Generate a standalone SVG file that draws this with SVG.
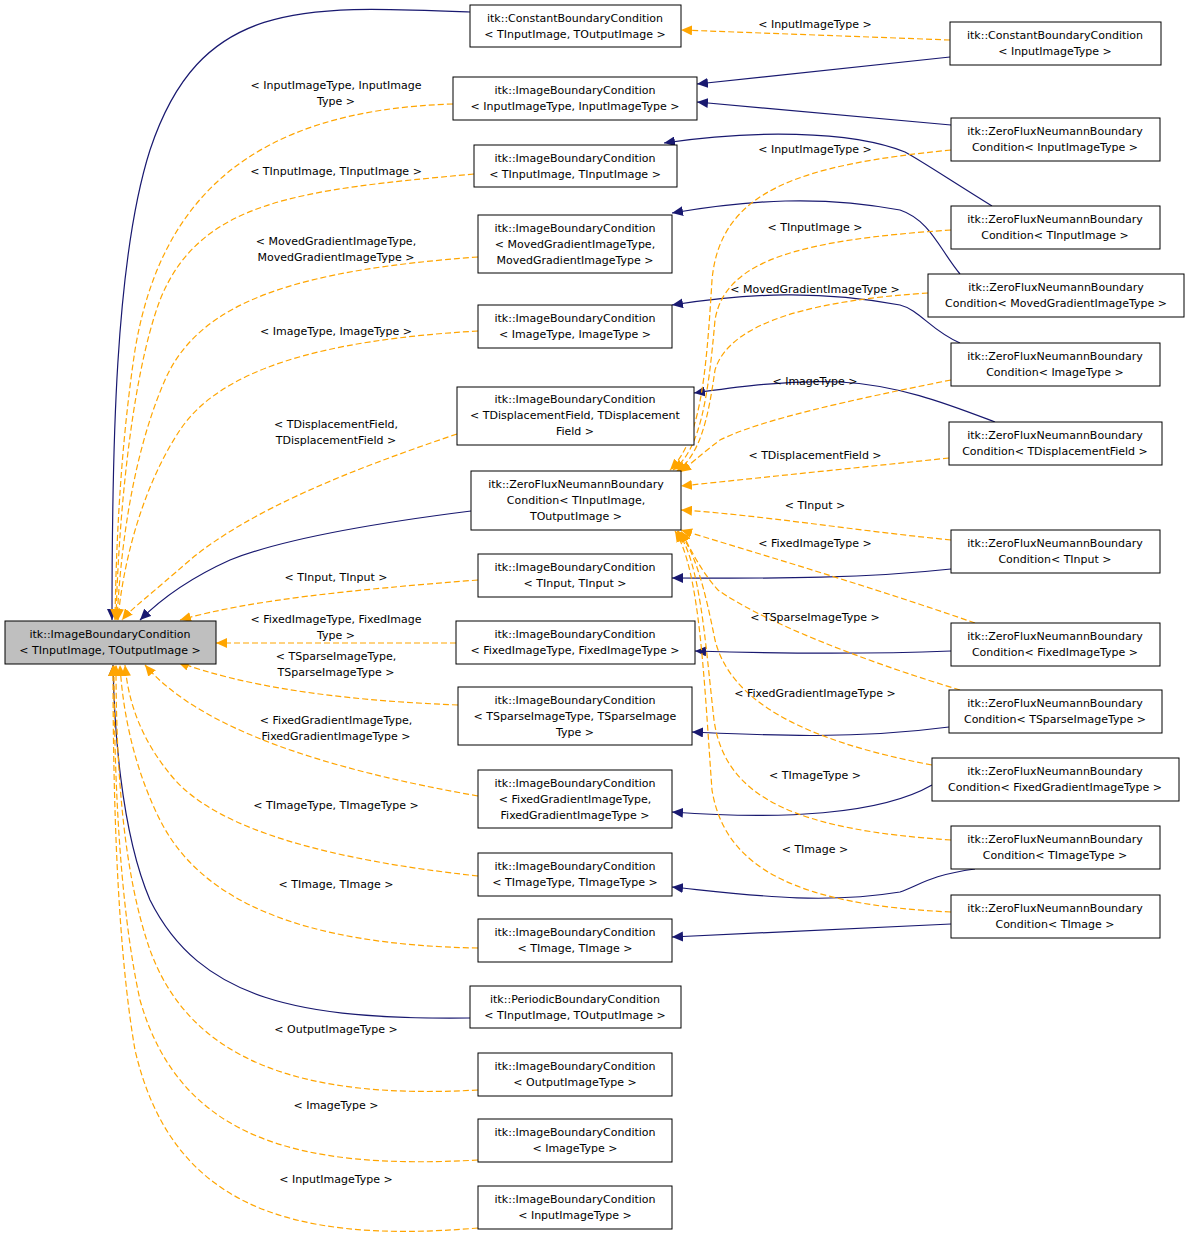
<svg xmlns="http://www.w3.org/2000/svg" width="1189" height="1242" viewBox="0 0 1189 1242">
<style>
text{font-family:"DejaVu Sans","Noto Sans",sans-serif;font-size:11px;fill:#000;text-anchor:middle}
.n rect{fill:#fff;stroke:#000;stroke-width:1}
.r rect{fill:#bfbfbf}
.b{fill:none;stroke:#191970;stroke-width:1.2}
.o{fill:none;stroke:#ffa500;stroke-width:1.2;stroke-dasharray:6,3}
</style>
<defs>
<marker id="ab" markerWidth="12" markerHeight="10" refX="11" refY="5" orient="auto" markerUnits="userSpaceOnUse"><path d="M0,0 L11,5 L0,10 z" fill="#191970"/></marker>
<marker id="ao" markerWidth="12" markerHeight="10" refX="11" refY="5" orient="auto" markerUnits="userSpaceOnUse"><path d="M0,0 L11,5 L0,10 z" fill="#ffa500"/></marker>
</defs>
<g id="connectors">
<!-- to root -->
<path class="b" marker-end="url(#ab)" d="M470,12 C300,5 200,0 150,150 C115,260 112,450 112,620"/>
<path class="o" marker-end="url(#ao)" d="M453,104 C250,110 160,200 135,350 C120,450 116,550 115,620"/>
<path class="o" marker-end="url(#ao)" d="M474,174 C300,190 200,200 160,300 C130,380 118,530 116,620"/>
<path class="o" marker-end="url(#ao)" d="M478,257 C300,270 200,300 165,380 C130,460 120,560 117,620"/>
<path class="o" marker-end="url(#ao)" d="M478,331 C320,340 220,370 180,430 C140,490 122,570 118,620"/>
<path class="o" marker-end="url(#ao)" d="M457,434 C350,470 250,510 190,560 C150,595 130,610 122,620"/>
<path class="b" marker-end="url(#ab)" d="M471,511 C360,525 280,540 230,560 C190,578 160,600 140,620"/>
<path class="o" marker-end="url(#ao)" d="M478,580 C350,590 250,600 180,620"/>
<path class="o" marker-end="url(#ao)" d="M456,643 L216,643"/>
<path class="o" marker-end="url(#ao)" d="M458,705 C330,700 240,685 178,662"/>
<path class="o" marker-end="url(#ao)" d="M478,796 C330,770 200,730 145,665"/>
<path class="o" marker-end="url(#ao)" d="M478,876 C330,860 220,830 175,780 C140,740 128,700 125,665"/>
<path class="o" marker-end="url(#ao)" d="M478,948 C300,945 200,900 160,820 C130,760 122,700 120,665"/>
<path class="b" marker-end="url(#ab)" d="M470,1018 C300,1020 200,1000 150,900 C120,830 114,720 113,665"/>
<path class="o" marker-end="url(#ao)" d="M478,1090 C300,1100 190,1060 150,950 C122,870 116,760 116,665"/>
<path class="o" marker-end="url(#ao)" d="M478,1160 C300,1170 180,1140 140,1000 C118,900 114,760 114,665"/>
<path class="o" marker-end="url(#ao)" d="M478,1228 C280,1245 170,1200 135,1050 C116,940 113,780 113,665"/>
<!-- right side navy -->
<path class="b" marker-end="url(#ab)" d="M950,57 L697,84"/>
<path class="b" marker-end="url(#ab)" d="M951,125 L697,102"/>
<path class="b" marker-end="url(#ab)" d="M992,206 C950,180 920,160 905,152 C850,130 750,130 664,143"/>
<path class="b" marker-end="url(#ab)" d="M960,274 C940,250 930,220 900,210 C820,195 750,200 672,213"/>
<path class="b" marker-end="url(#ab)" d="M960,343 C930,330 920,310 900,305 C820,290 750,293 672,305"/>
<path class="b" marker-end="url(#ab)" d="M995,422 C950,405 900,385 840,382 C780,380 730,388 694,393"/>
<path class="b" marker-end="url(#ab)" d="M951,569 C850,580 750,578 672,578"/>
<path class="b" marker-end="url(#ab)" d="M951,651 C850,655 760,653 695,651"/>
<path class="b" marker-end="url(#ab)" d="M949,727 C850,740 760,735 692,732"/>
<path class="b" marker-end="url(#ab)" d="M932,785 C880,815 780,820 672,812"/>
<path class="b" marker-end="url(#ab)" d="M975,869 C930,875 920,885 900,892 C820,905 750,895 672,887"/>
<path class="b" marker-end="url(#ab)" d="M951,924 L672,937"/>
<!-- right side orange -->
<path class="o" marker-end="url(#ao)" d="M950,40 L681,30"/>
<path class="o" marker-end="url(#ao)" d="M951,150 C800,165 720,190 712,280 C706,380 700,440 670,470"/>
<path class="o" marker-end="url(#ao)" d="M951,230 C800,240 725,260 715,320 C708,400 700,450 673,470"/>
<path class="o" marker-end="url(#ao)" d="M928,293 C820,300 730,320 715,370 C708,420 700,455 676,472"/>
<path class="o" marker-end="url(#ao)" d="M951,380 C850,400 760,420 720,440 C700,455 690,465 680,472"/>
<path class="o" marker-end="url(#ao)" d="M949,458 L681,486"/>
<path class="o" marker-end="url(#ao)" d="M951,540 C850,530 760,515 681,510"/>
<path class="o" marker-end="url(#ao)" d="M975,623 C880,590 780,560 681,530"/>
<path class="o" marker-end="url(#ao)" d="M960,690 C860,660 760,620 718,590 C700,570 690,548 681,531"/>
<path class="o" marker-end="url(#ao)" d="M932,765 C800,740 730,700 715,640 C705,590 695,550 678,531"/>
<path class="o" marker-end="url(#ao)" d="M951,840 C800,830 725,800 714,720 C705,640 700,560 677,531"/>
<path class="o" marker-end="url(#ao)" d="M951,912 C800,905 725,870 712,790 C704,680 700,570 675,531"/>
</g>
<g id="root" class="n r"><rect x="5" y="621" width="211" height="43"/><text x="110" y="638">itk::ImageBoundaryCondition</text><text x="110" y="654">&lt; TInputImage, TOutputImage &gt;</text></g>
<g id="n1" class="n"><rect x="470" y="5" width="211" height="42"/><text x="575" y="22">itk::ConstantBoundaryCondition</text><text x="575" y="38">&lt; TInputImage, TOutputImage &gt;</text></g>
<g id="n2" class="n"><rect x="453" y="77" width="244" height="43"/><text x="575" y="94">itk::ImageBoundaryCondition</text><text x="575" y="110">&lt; InputImageType, InputImageType &gt;</text></g>
<g id="n3" class="n"><rect x="474" y="145" width="203" height="42"/><text x="575" y="162">itk::ImageBoundaryCondition</text><text x="575" y="178">&lt; TInputImage, TInputImage &gt;</text></g>
<g id="n4" class="n"><rect x="478" y="215" width="194" height="58"/><text x="575" y="232">itk::ImageBoundaryCondition</text><text x="575" y="248">&lt; MovedGradientImageType,</text><text x="575" y="264">MovedGradientImageType &gt;</text></g>
<g id="n5" class="n"><rect x="478" y="305" width="194" height="43"/><text x="575" y="322">itk::ImageBoundaryCondition</text><text x="575" y="338">&lt; ImageType, ImageType &gt;</text></g>
<g id="n6" class="n"><rect x="457" y="387" width="237" height="58"/><text x="575" y="403">itk::ImageBoundaryCondition</text><text x="575" y="419">&lt; TDisplacementField, TDisplacement</text><text x="575" y="435">Field &gt;</text></g>
<g id="n7" class="n"><rect x="471" y="471" width="210" height="59"/><text x="576" y="488">itk::ZeroFluxNeumannBoundary</text><text x="576" y="504">Condition&lt; TInputImage,</text><text x="576" y="520">TOutputImage &gt;</text></g>
<g id="n8" class="n"><rect x="478" y="554" width="194" height="43"/><text x="575" y="571">itk::ImageBoundaryCondition</text><text x="575" y="587">&lt; TInput, TInput &gt;</text></g>
<g id="n9" class="n"><rect x="456" y="621" width="239" height="43"/><text x="575" y="638">itk::ImageBoundaryCondition</text><text x="575" y="654">&lt; FixedImageType, FixedImageType &gt;</text></g>
<g id="n10" class="n"><rect x="458" y="687" width="234" height="58"/><text x="575" y="704">itk::ImageBoundaryCondition</text><text x="575" y="720">&lt; TSparseImageType, TSparseImage</text><text x="575" y="736">Type &gt;</text></g>
<g id="n11" class="n"><rect x="478" y="770" width="194" height="58"/><text x="575" y="787">itk::ImageBoundaryCondition</text><text x="575" y="803">&lt; FixedGradientImageType,</text><text x="575" y="819">FixedGradientImageType &gt;</text></g>
<g id="n12" class="n"><rect x="478" y="853" width="194" height="43"/><text x="575" y="870">itk::ImageBoundaryCondition</text><text x="575" y="886">&lt; TImageType, TImageType &gt;</text></g>
<g id="n13" class="n"><rect x="478" y="919" width="194" height="43"/><text x="575" y="936">itk::ImageBoundaryCondition</text><text x="575" y="952">&lt; TImage, TImage &gt;</text></g>
<g id="n14" class="n"><rect x="470" y="986" width="211" height="42"/><text x="575" y="1003">itk::PeriodicBoundaryCondition</text><text x="575" y="1019">&lt; TInputImage, TOutputImage &gt;</text></g>
<g id="n15" class="n"><rect x="478" y="1053" width="194" height="43"/><text x="575" y="1070">itk::ImageBoundaryCondition</text><text x="575" y="1086">&lt; OutputImageType &gt;</text></g>
<g id="n16" class="n"><rect x="478" y="1119" width="194" height="43"/><text x="575" y="1136">itk::ImageBoundaryCondition</text><text x="575" y="1152">&lt; ImageType &gt;</text></g>
<g id="n17" class="n"><rect x="478" y="1186" width="194" height="43"/><text x="575" y="1203">itk::ImageBoundaryCondition</text><text x="575" y="1219">&lt; InputImageType &gt;</text></g>
<g id="r1" class="n"><rect x="950" y="22" width="211" height="43"/><text x="1055" y="39">itk::ConstantBoundaryCondition</text><text x="1055" y="55">&lt; InputImageType &gt;</text></g>
<g id="r2" class="n"><rect x="951" y="118" width="209" height="43"/><text x="1055" y="135">itk::ZeroFluxNeumannBoundary</text><text x="1055" y="151">Condition&lt; InputImageType &gt;</text></g>
<g id="r3" class="n"><rect x="951" y="206" width="209" height="43"/><text x="1055" y="223">itk::ZeroFluxNeumannBoundary</text><text x="1055" y="239">Condition&lt; TInputImage &gt;</text></g>
<g id="r4" class="n"><rect x="928" y="274" width="256" height="43"/><text x="1056" y="291">itk::ZeroFluxNeumannBoundary</text><text x="1056" y="307">Condition&lt; MovedGradientImageType &gt;</text></g>
<g id="r5" class="n"><rect x="951" y="343" width="209" height="43"/><text x="1055" y="360">itk::ZeroFluxNeumannBoundary</text><text x="1055" y="376">Condition&lt; ImageType &gt;</text></g>
<g id="r6" class="n"><rect x="949" y="422" width="213" height="43"/><text x="1055" y="439">itk::ZeroFluxNeumannBoundary</text><text x="1055" y="455">Condition&lt; TDisplacementField &gt;</text></g>
<g id="r7" class="n"><rect x="951" y="530" width="209" height="43"/><text x="1055" y="547">itk::ZeroFluxNeumannBoundary</text><text x="1055" y="563">Condition&lt; TInput &gt;</text></g>
<g id="r8" class="n"><rect x="951" y="623" width="209" height="43"/><text x="1055" y="640">itk::ZeroFluxNeumannBoundary</text><text x="1055" y="656">Condition&lt; FixedImageType &gt;</text></g>
<g id="r9" class="n"><rect x="949" y="690" width="213" height="43"/><text x="1055" y="707">itk::ZeroFluxNeumannBoundary</text><text x="1055" y="723">Condition&lt; TSparseImageType &gt;</text></g>
<g id="r10" class="n"><rect x="932" y="758" width="247" height="43"/><text x="1055" y="775">itk::ZeroFluxNeumannBoundary</text><text x="1055" y="791">Condition&lt; FixedGradientImageType &gt;</text></g>
<g id="r11" class="n"><rect x="951" y="826" width="209" height="43"/><text x="1055" y="843">itk::ZeroFluxNeumannBoundary</text><text x="1055" y="859">Condition&lt; TImageType &gt;</text></g>
<g id="r12" class="n"><rect x="951" y="895" width="209" height="43"/><text x="1055" y="912">itk::ZeroFluxNeumannBoundary</text><text x="1055" y="928">Condition&lt; TImage &gt;</text></g>
<g id="labels">
<text x="336" y="89">&lt; InputImageType, InputImage</text><text x="336" y="105">Type &gt;</text>
<text x="336" y="175">&lt; TInputImage, TInputImage &gt;</text>
<text x="336" y="245">&lt; MovedGradientImageType,</text><text x="336" y="261">MovedGradientImageType &gt;</text>
<text x="336" y="335">&lt; ImageType, ImageType &gt;</text>
<text x="336" y="428">&lt; TDisplacementField,</text><text x="336" y="444">TDisplacementField &gt;</text>
<text x="336" y="581">&lt; TInput, TInput &gt;</text>
<text x="336" y="623">&lt; FixedImageType, FixedImage</text><text x="336" y="639">Type &gt;</text>
<text x="336" y="660">&lt; TSparseImageType,</text><text x="336" y="676">TSparseImageType &gt;</text>
<text x="336" y="724">&lt; FixedGradientImageType,</text><text x="336" y="740">FixedGradientImageType &gt;</text>
<text x="336" y="809">&lt; TImageType, TImageType &gt;</text>
<text x="336" y="888">&lt; TImage, TImage &gt;</text>
<text x="336" y="1033">&lt; OutputImageType &gt;</text>
<text x="336" y="1109">&lt; ImageType &gt;</text>
<text x="336" y="1183">&lt; InputImageType &gt;</text>
<text x="815" y="28">&lt; InputImageType &gt;</text>
<text x="815" y="153">&lt; InputImageType &gt;</text>
<text x="815" y="231">&lt; TInputImage &gt;</text>
<text x="815" y="293">&lt; MovedGradientImageType &gt;</text>
<text x="815" y="385">&lt; ImageType &gt;</text>
<text x="815" y="459">&lt; TDisplacementField &gt;</text>
<text x="815" y="509">&lt; TInput &gt;</text>
<text x="815" y="547">&lt; FixedImageType &gt;</text>
<text x="815" y="621">&lt; TSparseImageType &gt;</text>
<text x="815" y="697">&lt; FixedGradientImageType &gt;</text>
<text x="815" y="779">&lt; TImageType &gt;</text>
<text x="815" y="853">&lt; TImage &gt;</text>
</g>
</svg>
